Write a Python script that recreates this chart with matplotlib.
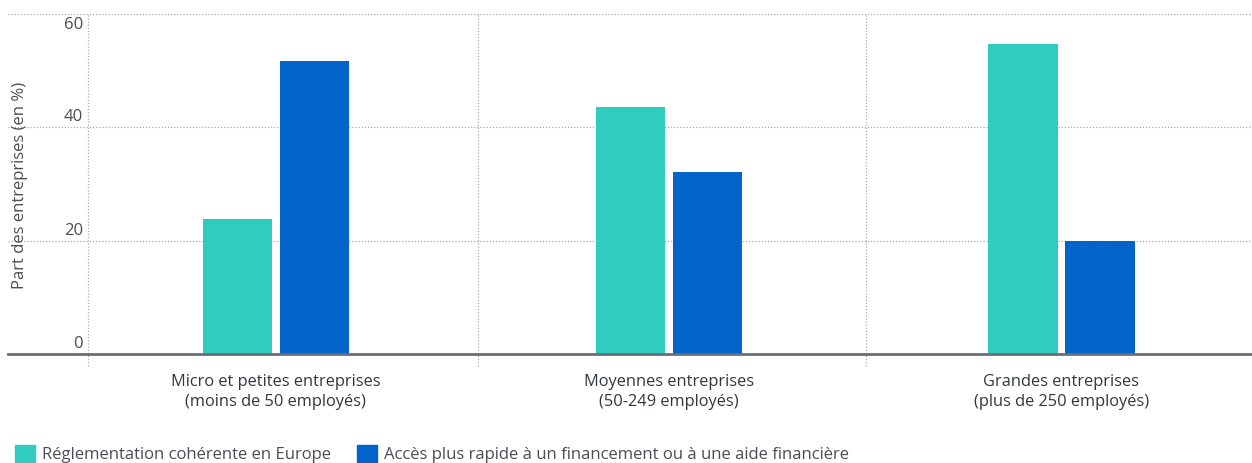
import matplotlib
matplotlib.use("Agg")
import matplotlib.pyplot as plt
from matplotlib.patches import Patch
import matplotlib.transforms as mtrans
import numpy as np

categories = ["Micro et petites entreprises\n(moins de 50 employés)",
              "Moyennes entreprises\n(50-249 employés)",
              "Grandes entreprises\n(plus de 250 employés)"]
series_names = ["Réglementation cohérente en Europe",
                "Accès plus rapide à un financement ou à une aide financière"]
reglementation = [23.8, 43.6, 54.7]
financement = [51.7, 32.1, 20.0]
y_ticks = [0, 20, 40, 60]
y_label = "Part des entreprises (en %)"

teal = "#31CCC0"
blue = "#0263C9"
txt = "#4a4d55"

plt.rcParams['font.family'] = ['Open Sans', 'DejaVu Sans']

W, H = 1252, 463
fig = plt.figure(figsize=(W / 100, H / 100), dpi=100)
ax = fig.add_axes([8 / W, (H - 354) / H, 1 - 8 / W, (354 - 14) / H])

x = np.arange(len(categories))
bw = 0.176
off = 0.098
ax.bar(x - off, reglementation, bw, color=teal, zorder=3)
ax.bar(x + off, financement, bw, color=blue, zorder=3)

ax.set_xlim(-0.682, 2.485)
ax.set_ylim(0, 60)

for s in ax.spines.values():
    s.set_visible(False)
ax.axhline(0, color="#6b6e78", lw=2, zorder=4, clip_on=False)
for t in y_ticks[1:]:
    ax.axhline(t, color="#aaaaaa", lw=0.9, ls=(0, (1, 1.5)), zorder=1)
for xv in [-0.479, 0.514, 1.502]:
    ax.plot([xv, xv], [-2.1, 60], color="#aaaaaa", lw=0.9, ls=(0, (1, 1.5)),
            zorder=1, clip_on=False)

ax.set_xticks([])
ax.set_yticks([])
ytrans = ax.get_yaxis_transform()
for t in y_ticks:
    dy = -11 if t == 60 else 10
    tr = ytrans + mtrans.ScaledTranslation(0, dy / 100, fig.dpi_scale_trans)
    ax.text((83 - 8) / (W - 8), t, str(t), transform=tr,
            ha="right", va="center", fontsize=12, color=txt)

for xi, lab in zip(x, categories):
    ax.text(xi, -3.6, lab, ha="center", va="top", fontsize=11.8,
            color="#333640", linespacing=1.32)

fig.text(20 / W, 1 - 185 / H, y_label, rotation=90, ha="center", va="center",
         fontsize=12, color=txt)

handles = [Patch(color=teal), Patch(color=blue)]
fig.legend(handles, series_names, loc="lower left",
           bbox_to_anchor=(8 / W, -7 / H), ncol=2, frameon=False,
           fontsize=12, handlelength=1.2, handleheight=1.2,
           handletextpad=0.45, columnspacing=1.55, labelcolor=txt,
           borderaxespad=0.0)

fig.savefig("out.png", dpi=100)
